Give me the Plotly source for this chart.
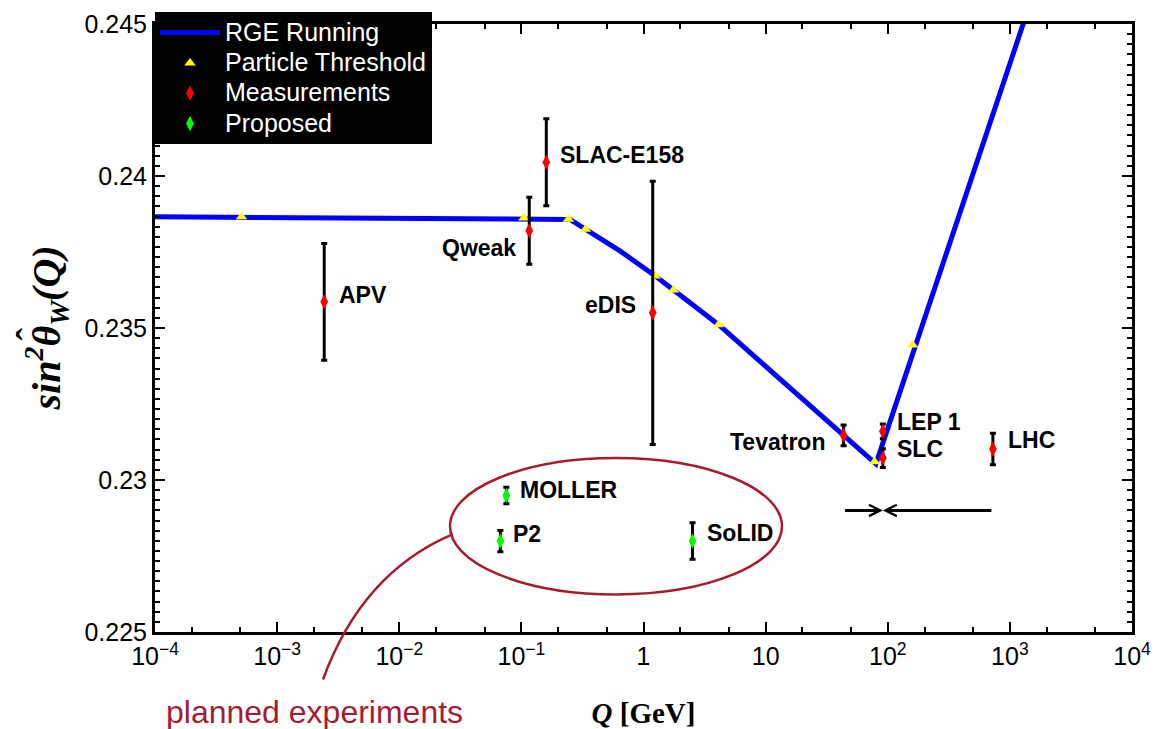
import numpy as np
import plotly.graph_objects as go

# ---------------- data ----------------
# RGE running curve (vertices)
rge_q = [1e-4, 0.25, 0.65, 1.25, 4.12, 80.0, 2000.0]
rge_s = [0.23866, 0.23857, 0.23752, 0.23671, 0.23511, 0.23053, 0.24731]

# particle thresholds
thr_q = [5.11e-4, 0.105, 0.243, 0.335, 1.25, 1.76, 4.12, 78.0, 160.0]
thr_s = [0.23866, 0.23862, 0.23858, 0.23825, 0.23671, 0.23625, 0.23511, 0.23060, 0.23444]

# measurements
meas_names = ["APV", "Qweak", "SLAC-E158", "eDIS", "Tevatron", "LEP 1", "SLC", "LHC"]
meas_q = [0.00243, 0.116, 0.160, 1.19, 43.5, 91.2, 91.2, 726.0]
meas_s = [0.23586, 0.23820, 0.24045, 0.23550, 0.23147, 0.23160, 0.23072, 0.23102]
meas_err = [0.00192, 0.00110, 0.00143, 0.00433, 0.00034, 0.00024, 0.00031, 0.00052]

# proposed experiments
prop_names = ["MOLLER", "P2", "SoLID"]
prop_q = [0.0753, 0.0673, 2.52]
prop_s = [0.22949, 0.22799, 0.22799]
prop_err = [0.00027, 0.00035, 0.00060]

# horizontal range marker
range_q = [43.5, 726.0]
range_center_q = 91.2
range_s = 0.2290

# axes
x_tickvals = [1e-4, 1e-3, 1e-2, 1e-1, 1, 10, 1e2, 1e3, 1e4]
x_ticktext = ["10<sup>−4</sup>", "10<sup>−3</sup>", "10<sup>−2</sup>", "10<sup>−1</sup>",
              "1", "10", "10<sup>2</sup>", "10<sup>3</sup>", "10<sup>4</sup>"]
y_tickvals = [0.225, 0.23, 0.235, 0.24, 0.245]
y_ticktext = ["0.225", "0.23", "0.235", "0.24", "0.245"]

# label offsets (pixels): (xanchor, xshift, yshift)
meas_label_pos = [("left", 13, 7), ("right", -11, -17), ("left", 12, 7), ("right", -15, 8),
                  ("right", -17, -7), ("left", 12, 9), ("left", 12, 9), ("left", 13, 9)]
prop_label_pos = [("left", 12, 6), ("left", 11, 7), ("left", 12, 8)]

CRIMSON = "#a51c30"
W, H = 1168, 729
ML, MR, MT, MB = 155, 36, 17, 97


def leg(name):
    return '<span style="font-size:25px">%s</span>' % name


def px(xp):
    return (xp - ML) / (W - ML - MR)


def py(yp):
    return (H - MB - yp) / (H - MT - MB)


fig = go.Figure()
fig.add_trace(go.Scatter(x=rge_q, y=rge_s, mode="lines", name=leg("RGE Running"),
                         line=dict(color="#0000ff", width=5)))
fig.add_trace(go.Scatter(x=thr_q, y=thr_s, mode="markers", name=leg("Particle Threshold"),
                         marker=dict(symbol="triangle-up", color="#ffff00", size=10,
                                     line=dict(width=0))))
fig.add_trace(go.Scatter(x=meas_q, y=meas_s, mode="markers", name=leg("Measurements"),
                         marker=dict(symbol="diamond-tall", color="#ff0000", size=11,
                                     line=dict(width=0)),
                         error_y=dict(type="data", array=meas_err, color="black",
                                      thickness=3, width=3)))
fig.add_trace(go.Scatter(x=prop_q, y=prop_s, mode="markers", name=leg("Proposed"),
                         marker=dict(symbol="diamond-tall", color="#00ff00", size=11,
                                     line=dict(width=0)),
                         error_y=dict(type="data", array=prop_err, color="black",
                                      thickness=3, width=3)))

annotations = []
lab_font = dict(family="Liberation Sans, Arial", size=23, color="black")
for names, qs, ss, pos in [(meas_names, meas_q, meas_s, meas_label_pos),
                           (prop_names, prop_q, prop_s, prop_label_pos)]:
    for n, q, s, (xa, xs, ys) in zip(names, qs, ss, pos):
        annotations.append(dict(x=np.log10(q), y=s, xref="x", yref="y", text="<b>%s</b>" % n,
                                showarrow=False, xanchor=xa, yanchor="middle",
                                xshift=xs, yshift=ys, font=lab_font))

# range arrows pointing to the centre
for q_end in range_q:
    annotations.append(dict(x=np.log10(range_center_q), y=range_s, xref="x", yref="y",
                            ax=np.log10(q_end), ay=range_s, axref="x", ayref="y",
                            showarrow=True, arrowhead=5, arrowsize=0.75, arrowwidth=3,
                            arrowcolor="black", standoff=0, startstandoff=0, text=""))

# y-axis title (rotated) with the hat over theta
serif = "Liberation Serif, Times New Roman"
annotations.append(dict(x=px(47), y=py(325), xref="paper", yref="paper", textangle=-90,
                        text="<b><i>sin<sup>2</sup>θ<sub>W</sub>(Q)</i></b>",
                        showarrow=False, xanchor="center", yanchor="middle",
                        font=dict(family=serif, size=40, color="black")))
annotations.append(dict(x=px(30), y=py(331), xref="paper", yref="paper", textangle=-90,
                        text="<b>ˆ</b>", showarrow=False, xanchor="center", yanchor="middle",
                        font=dict(family=serif, size=38, color="black")))

# planned experiments note
annotations.append(dict(x=px(164), y=py(713), xref="paper", yref="paper",
                        text="planned experiments", showarrow=False,
                        xanchor="left", yanchor="middle",
                        font=dict(family="Liberation Sans, Arial", size=32, color=CRIMSON)))

shapes = [
    dict(type="circle", xref="paper", yref="paper",
         x0=px(450), x1=px(782), y0=py(594), y1=py(456),
         line=dict(color=CRIMSON, width=2.5), layer="above"),
    dict(type="path", xref="paper", yref="paper",
         path="M %f,%f Q %f,%f %f,%f" % (px(453), py(533), px(362), py(572), px(323), py(680)),
         line=dict(color=CRIMSON, width=2.5), layer="above"),
]

fig.update_layout(
    width=W, height=H,
    margin=dict(l=ML, r=MR, t=MT, b=MB, pad=0),
    paper_bgcolor="white", plot_bgcolor="white",
    showlegend=True,
    legend=dict(x=0, y=1.019, xanchor="left", yanchor="top", bgcolor="black",
                font=dict(family="Liberation Sans, Arial", size=21, color="white"),
                itemwidth=60, tracegroupgap=0, borderwidth=0),
    annotations=annotations, shapes=shapes,
    xaxis=dict(type="log", range=[-4, 4], tickvals=x_tickvals, ticktext=x_ticktext,
               automargin=False,
               showgrid=False, zeroline=False, showline=True, linecolor="black",
               linewidth=3, mirror="allticks", ticks="inside", ticklen=10, tickwidth=2,
               tickcolor="black",
               minor=dict(ticks="inside", ticklen=5, tickwidth=2, tickcolor="black",
                          showgrid=False),
               tickfont=dict(family="Liberation Sans, Arial", size=25, color="black"),
               title=dict(text="<b><i>Q</i> [GeV]</b>",
                          font=dict(family=serif, size=29, color="black"), standoff=36)),
    yaxis=dict(range=[0.225, 0.245], tickvals=y_tickvals, ticktext=y_ticktext,
               automargin=False,
               showgrid=False, zeroline=False, showline=True, linecolor="black",
               linewidth=3, mirror="allticks", ticks="inside", ticklen=10, tickwidth=2,
               tickcolor="black",
               minor=dict(ticks="inside", ticklen=5, tickwidth=2, tickcolor="black",
                          dtick=0.005 / 15, showgrid=False),
               tickfont=dict(family="Liberation Sans, Arial", size=25, color="black")),
)

fig.write_html("out.html")
